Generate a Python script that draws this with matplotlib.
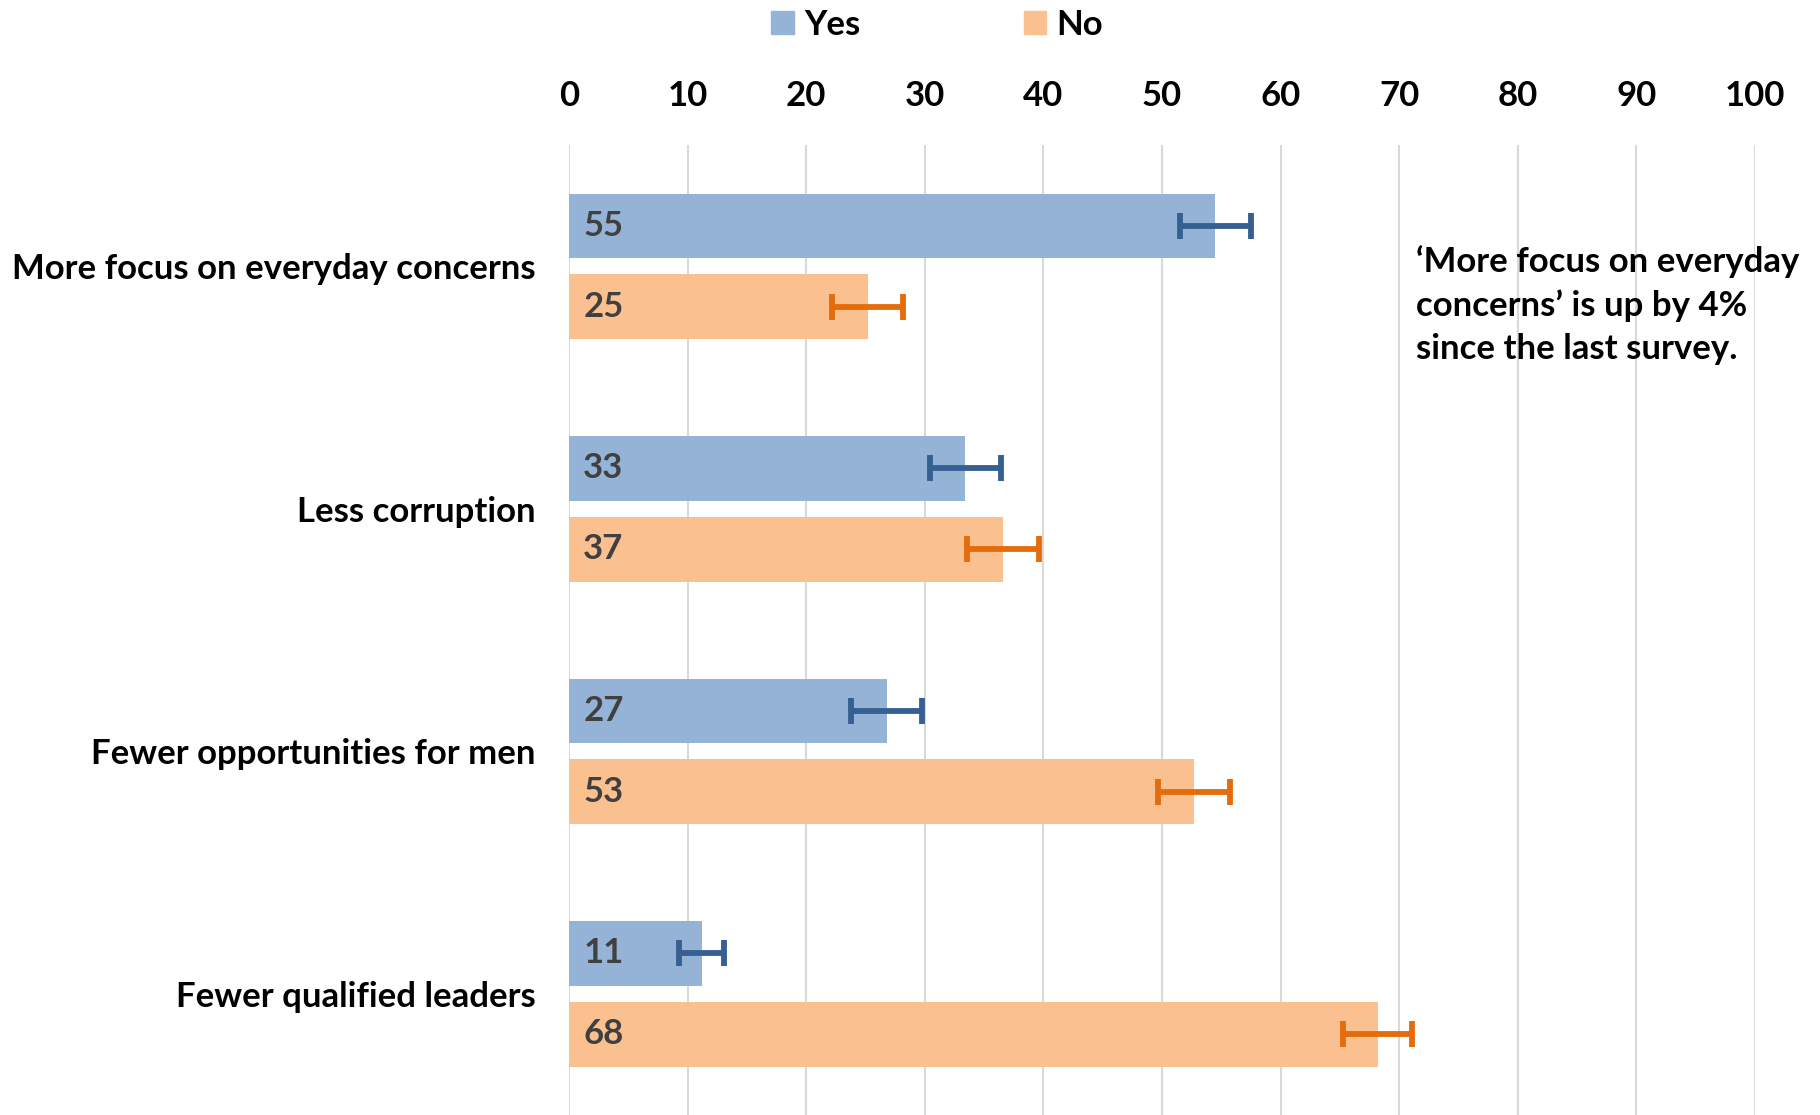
#!/usr/bin/env python3
# -*- coding: utf-8 -*-
"""
Horizontal grouped bar chart: Yes / No answers with error bars
"""

import matplotlib
matplotlib.use('Agg')
import matplotlib.pyplot as plt
from matplotlib.patches import Patch
import numpy as np

plt.rcParams['font.family'] = ['Lato', 'DejaVu Sans']
plt.rcParams['font.weight'] = 'bold'

# Data
categories = ['More focus on everyday concerns', 'Less corruption',
              'Fewer opportunities for men', 'Fewer qualified leaders']
yes_values = [54.5, 33.4, 26.8, 11.2]
no_values = [25.2, 36.6, 52.7, 68.2]
yes_err = [3.0, 3.0, 3.0, 1.9]
no_err = [3.0, 3.0, 3.0, 2.9]
yes_labels = ['55', '33', '27', '11']
no_labels = ['25', '37', '53', '68']
x_ticks = [0, 10, 20, 30, 40, 50, 60, 70, 80, 90, 100]
note = "\u2018More focus on everyday\nconcerns\u2019 is up by 4%\nsince the last survey."

YES_COLOR = '#95b3d7'
NO_COLOR = '#fac090'
YES_ERR = '#366092'
NO_ERR = '#e46c0a'
LABEL_COLOR = '#404040'
FS = 25


def main():
    fig = plt.figure(figsize=(18.2, 11.15), dpi=100)
    ax = fig.add_axes([569 / 1820, 0, 1186 / 1820, 970 / 1115])

    y = np.arange(len(categories))
    h = 0.268
    off = 0.166

    ax.barh(y - off, yes_values, h, color=YES_COLOR, zorder=2)
    ax.barh(y + off, no_values, h, color=NO_COLOR, zorder=2)
    ax.errorbar(yes_values, y - off, xerr=yes_err, fmt='none', ecolor=YES_ERR,
                elinewidth=4.2, capsize=9.5, capthick=4.2, zorder=3)
    ax.errorbar(no_values, y + off, xerr=no_err, fmt='none', ecolor=NO_ERR,
                elinewidth=4.2, capsize=9.5, capthick=4.2, zorder=3)

    for i in range(len(categories)):
        ax.text(1.2, y[i] - off, yes_labels[i], ha='left', va='center',
                fontsize=FS, fontweight='bold', color=LABEL_COLOR, zorder=4)
        ax.text(1.2, y[i] + off, no_labels[i], ha='left', va='center',
                fontsize=FS, fontweight='bold', color=LABEL_COLOR, zorder=4)

    ax.set_xlim(0, 100)
    ax.set_ylim(3.5, -0.5)
    ax.set_xticks(x_ticks)
    ax.xaxis.tick_top()
    ax.tick_params(axis='x', length=0, pad=24, labelsize=FS)
    ax.set_yticks(y)
    ax.set_yticklabels(categories)
    ax.tick_params(axis='y', length=0, pad=24, labelsize=FS)
    for lbl in ax.get_xticklabels() + ax.get_yticklabels():
        lbl.set_fontweight('bold')

    ax.grid(axis='x', color='#d9d9d9', linewidth=1.5, zorder=0)
    ax.set_axisbelow(True)
    for s in ax.spines.values():
        s.set_visible(False)

    fig.text(1416 / 1820, 1 - 245 / 1115, note, ha='left', va='top',
             fontsize=FS, fontweight='bold', linespacing=1.42)

    handles = [Patch(color=YES_COLOR, label='Yes'), Patch(color=NO_COLOR, label='No')]
    fig.legend(handles=handles, loc='center', bbox_to_anchor=(0.515, 0.978), ncol=2,
               frameon=False, fontsize=FS, handlelength=0.65, handleheight=0.65,
               handletextpad=0.3, columnspacing=4.7)

    plt.savefig('out.png', dpi=100)
    plt.close()


if __name__ == "__main__":
    main()
